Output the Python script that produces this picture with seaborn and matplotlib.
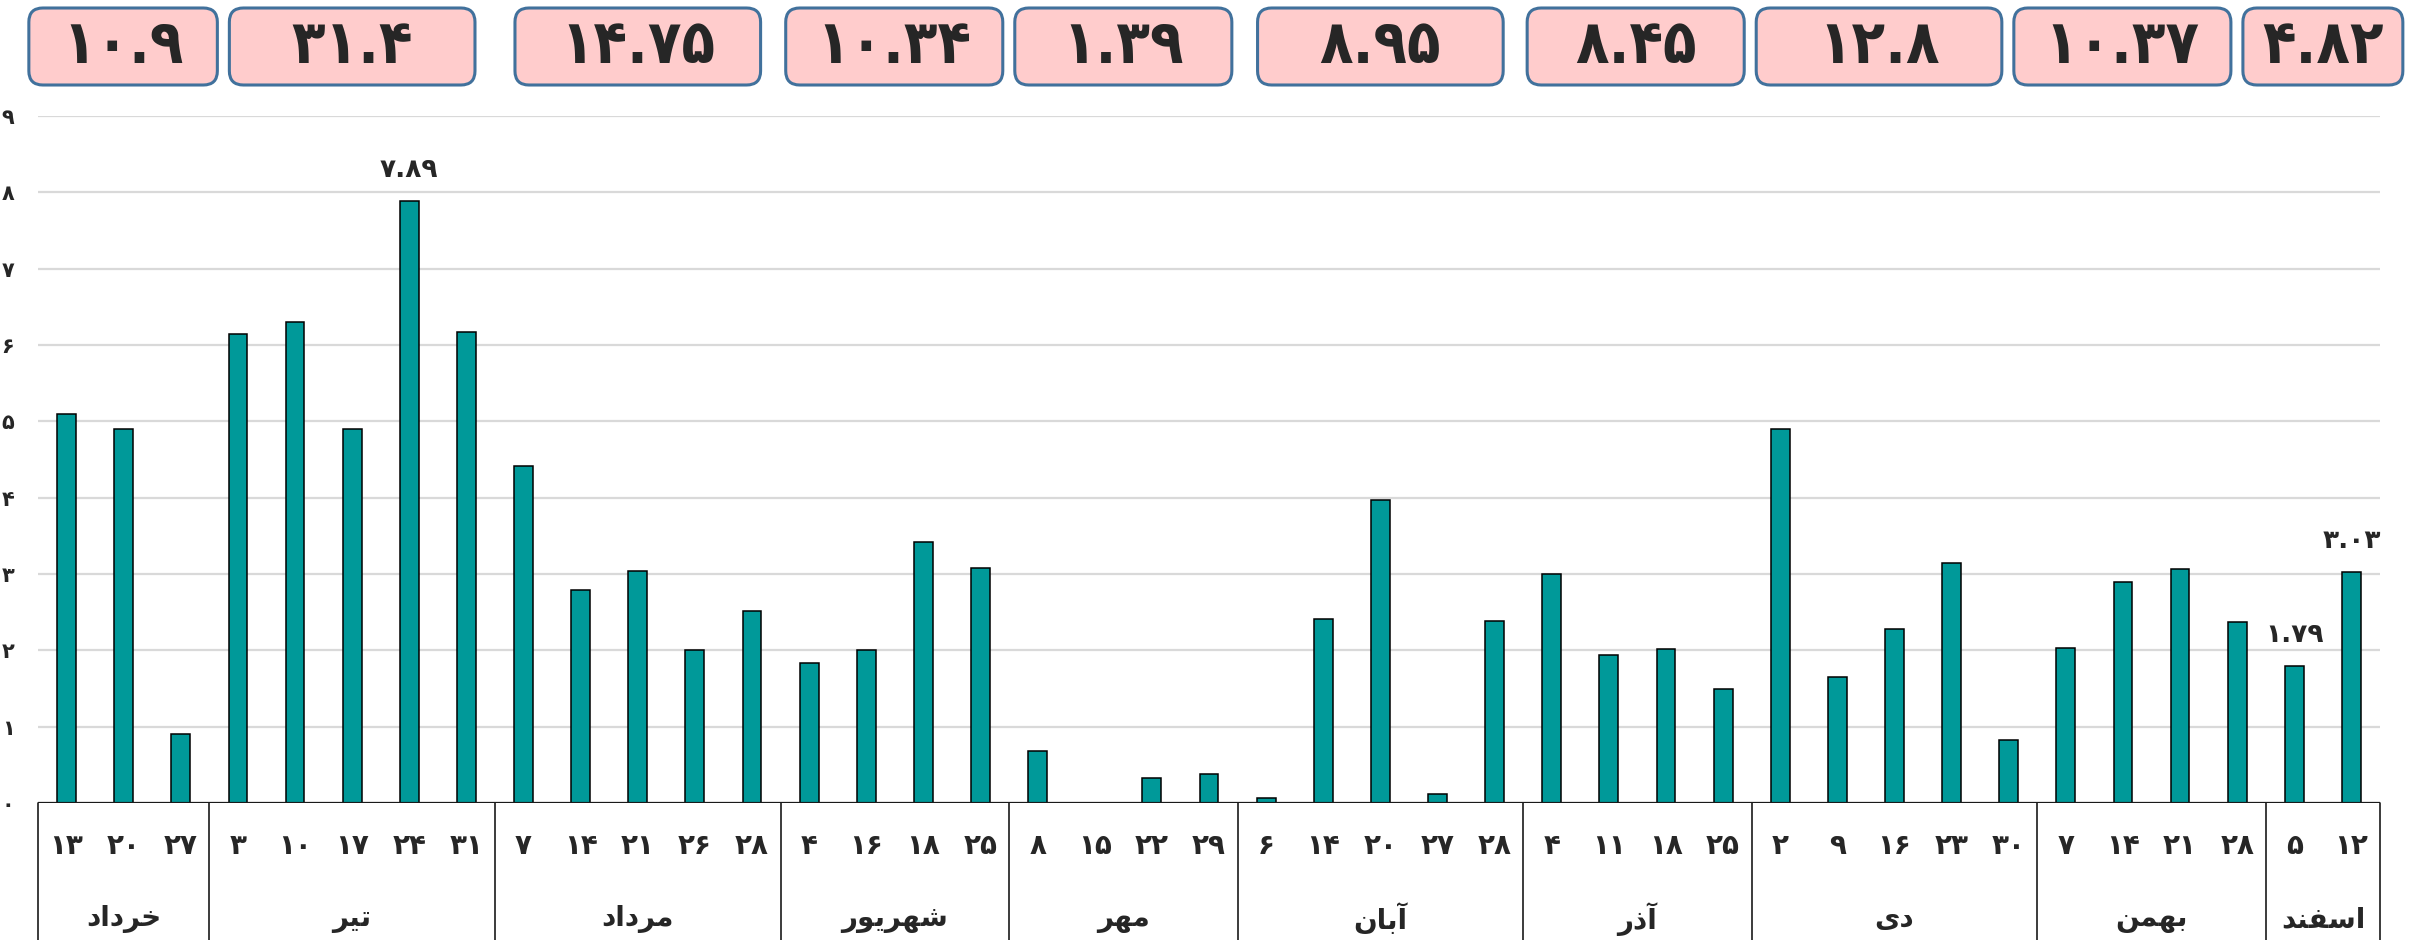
import numpy as np
import pandas as pd
import matplotlib
matplotlib.use("Agg")
import matplotlib.pyplot as plt
import matplotlib.transforms as mtransforms
from matplotlib.patches import FancyBboxPatch
import seaborn as sns

# ---- data -------------------------------------------------------------
MONTHS = ["خرداد", "تیر", "مرداد", "شهریور", "مهر", "آبان", "آذر", "دی", "بهمن", "اسفند"]
DAYS = [
    [13, 20, 27],
    [3, 10, 17, 24, 31],
    [7, 14, 21, 26, 28],
    [4, 16, 18, 25],
    [8, 15, 22, 29],
    [6, 14, 20, 27, 28],
    [4, 11, 18, 25],
    [2, 9, 16, 23, 30],
    [7, 14, 21, 28],
    [5, 12],
]
VALUES = [
    [5.10, 4.90, 0.90],
    [6.15, 6.30, 4.90, 7.89, 6.17],
    [4.41, 2.79, 3.04, 2.00, 2.51],
    [1.84, 2.00, 3.42, 3.08],
    [0.68, 0.00, 0.33, 0.38],
    [0.06, 2.41, 3.97, 0.12, 2.39],
    [3.00, 1.94, 2.02, 1.49],
    [4.90, 1.65, 2.28, 3.15, 0.82],
    [2.03, 2.90, 3.07, 2.37],
    [1.79, 3.03],
]
MONTH_TOTALS = [10.9, 31.4, 14.75, 10.34, 1.39, 8.95, 8.45, 12.8, 10.37, 4.82]
LABELED = [("تیر", 24), ("اسفند", 5), ("اسفند", 12)]

BAR_COLOR = "#009999"
BOX_FACE = "#FFCCCC"
BOX_EDGE = "#41719C"

# ---- persian helpers (matplotlib does no arabic shaping) ----------------
# letter -> (isolated, final, initial, medial)
FORMS = {
    "ا": ("\uFE8D", "\uFE8E", None, None),
    "آ": ("\uFE81", "\uFE82", None, None),
    "ب": ("\uFE8F", "\uFE90", "\uFE91", "\uFE92"),
    "ت": ("\uFE95", "\uFE96", "\uFE97", "\uFE98"),
    "خ": ("\uFEA5", "\uFEA6", "\uFEA7", "\uFEA8"),
    "د": ("\uFEA9", "\uFEAA", None, None),
    "ذ": ("\uFEAB", "\uFEAC", None, None),
    "ر": ("\uFEAD", "\uFEAE", None, None),
    "س": ("\uFEB1", "\uFEB2", "\uFEB3", "\uFEB4"),
    "ش": ("\uFEB5", "\uFEB6", "\uFEB7", "\uFEB8"),
    "ف": ("\uFED1", "\uFED2", "\uFED3", "\uFED4"),
    "م": ("\uFEE1", "\uFEE2", "\uFEE3", "\uFEE4"),
    "ن": ("\uFEE5", "\uFEE6", "\uFEE7", "\uFEE8"),
    "ه": ("\uFEE9", "\uFEEA", "\uFEEB", "\uFEEC"),
    "و": ("\uFEED", "\uFEEE", None, None),
    "ی": ("\uFEEF", "\uFEF0", "\uFEF3", "\uFEF4"),
}


def shape_fa(word):
    """Pick contextual forms and reverse for left-to-right drawing."""
    out = []
    for i, ch in enumerate(word):
        iso, fin, ini, med = FORMS[ch]
        join_prev = i > 0 and FORMS[word[i - 1]][2] is not None
        join_next = i < len(word) - 1 and ini is not None
        if join_prev and join_next:
            out.append(med)
        elif join_prev:
            out.append(fin)
        elif join_next:
            out.append(ini)
        else:
            out.append(iso)
    return "".join(reversed(out))


FA_DIGITS = str.maketrans("0123456789", "۰۱۲۳۴۵۶۷۸۹")


def fa_num(v):
    return f"{v:g}".translate(FA_DIGITS)


# ---- tidy table ---------------------------------------------------------
rows = []
for month, days, vals in zip(MONTHS, DAYS, VALUES):
    for d, v in zip(days, vals):
        rows.append({"month": month, "day": d, "value": v})
df = pd.DataFrame(rows)
df["pos"] = np.arange(len(df))

sns.set_theme(style="white")
plt.rcParams["font.family"] = ["DejaVu Sans"]
plt.rcParams["font.weight"] = "bold"

W, H = 2420, 940
fig = plt.figure(figsize=(W / 100, H / 100), dpi=100)
ax = fig.add_axes([38 / W, 1 - 803 / H, (2380 - 38) / W, (803 - 116) / H])

sns.barplot(data=df, x="pos", y="value", color=BAR_COLOR, saturation=1,
            edgecolor="black", linewidth=1.1, width=0.33, ax=ax, zorder=3)

n = len(df)
ax.set_xlim(-0.5, n - 0.5)
ax.set_ylim(0, 9)
ax.set_yticks(range(10), [fa_num(t) for t in range(10)], fontsize=15, fontweight="bold")
ax.set_xticks(df["pos"], [fa_num(d) for d in df["day"]], fontsize=20, fontweight="bold")
ax.tick_params(axis="y", length=0, pad=17)
ax.tick_params(axis="x", length=0, pad=21)
ax.set_xlabel("")
ax.set_ylabel("")
ax.yaxis.grid(True, color="#D9D9D9", lw=1.6, zorder=0)
ax.xaxis.grid(False)
for s in ax.spines.values():
    s.set_visible(False)
ax.axhline(0, color="#1A1A1A", lw=1.6, zorder=4)

# multi-level category table below the axis
tr = mtransforms.blended_transform_factory(ax.transData, fig.transFigure)
y_base = 1 - 803 / H
starts = np.cumsum([0] + [len(d) for d in DAYS])
for b in starts:
    ax.plot([b - 0.5, b - 0.5], [0, y_base], transform=tr, color="#1A1A1A",
            lw=1.2, clip_on=False)

centers = [(starts[k] + starts[k + 1] - 1) / 2 for k in range(len(MONTHS))]
for k, month in enumerate(MONTHS):
    ax.text(centers[k], 1 - 919 / H, shape_fa(month), transform=tr, ha="center",
            va="center", fontsize=20, fontweight="bold")

# total boxes above each month, laid out in pixels, pushed apart if they touch
unit = ax.transData.transform((1, 0))[0] - ax.transData.transform((0, 0))[0]
spans = []
for k in range(len(MONTHS)):
    cx = ax.transData.transform((centers[k], 0))[0]
    bw = (0.5 * len(DAYS[k]) + 1.8) * unit
    spans.append([cx - bw / 2, cx + bw / 2])
spans[-1] = [min(spans[-1][0], W - 3 - (spans[-1][1] - spans[-1][0])), min(spans[-1][1], W - 3)]
for k in range(len(spans) - 2, -1, -1):
    over = spans[k][1] - (spans[k + 1][0] - 12)
    if over > 0:
        spans[k] = [spans[k][0] - over, spans[k][1] - over]

by0, by1 = H - 85, H - 8
for k, (x0, x1) in enumerate(spans):
    box = FancyBboxPatch((x0, by0), x1 - x0, by1 - by0,
                         transform=mtransforms.IdentityTransform(),
                         boxstyle="round,pad=0,rounding_size=14",
                         fc=BOX_FACE, ec=BOX_EDGE, lw=2.2, zorder=1)
    fig.add_artist(box)
    fig.text((x0 + x1) / 2 / W, (by0 + by1) / 2 / H, fa_num(MONTH_TOTALS[k]),
             ha="center", va="center", fontsize=44, fontweight="bold",
             fontstretch="condensed", zorder=5)

# value labels on selected bars
for month, day in LABELED:
    r = df[(df["month"] == month) & (df["day"] == day)].iloc[0]
    ax.annotate(fa_num(r["value"]), (r["pos"], r["value"]), xytext=(0, 13),
                textcoords="offset points", ha="center", va="bottom",
                fontsize=19, fontweight="bold")

fig.savefig("out.png", dpi=100)
